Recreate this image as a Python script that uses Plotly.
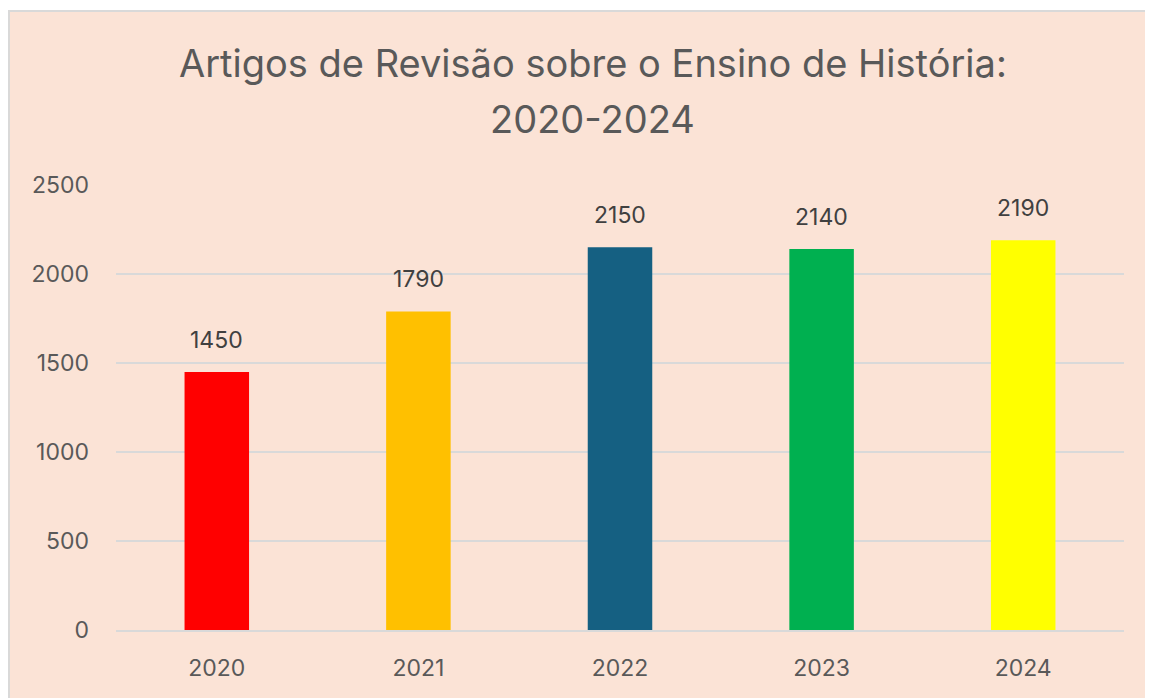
import plotly.graph_objects as go

anos = ['2020', '2021', '2022', '2023', '2024']
artigos = [1450, 1790, 2150, 2140, 2190]
cores = ['#FF0000', '#FFC000', '#156082', '#00B050', '#FFFF00']
y_ticks = [0, 500, 1000, 1500, 2000, 2500]
titulo = ['Artigos de Revisão sobre o Ensino de História:', '2020-2024']

fonte = 'Inter, Roboto, Liberation Sans, sans-serif'

fig = go.Figure()
fig.add_trace(go.Bar(x=anos, y=artigos, marker=dict(color=cores, line=dict(width=0)),
                     width=0.32, showlegend=False, hoverinfo='x+y'))

# rótulos de valor acima das barras (x = índice da categoria)
for i, v in enumerate(artigos):
    fig.add_annotation(x=i, y=v, text=str(v), showarrow=False, yanchor='bottom', yshift=16,
                       font=dict(family=fonte, size=23, color='#404040'))

# título em duas linhas
for linha, ypos in zip(titulo, [1.275, 1.148]):
    fig.add_annotation(x=0.473, y=ypos, xref='paper', yref='paper', text=linha, showarrow=False,
                       xanchor='center', yanchor='middle',
                       font=dict(family=fonte, size=38, color='#595959'))

# fundo do gráfico (estilo Excel)
fig.add_shape(type='rect', xref='paper', yref='paper', x0=-0.1062, x1=1.2, y0=-0.3, y1=1.391,
              fillcolor='#FBE3D6', line=dict(color='#D9D9D9', width=2), layer='below')

fig.update_layout(
    width=1146, height=691,
    margin=dict(l=108, r=30, t=177, b=69),
    paper_bgcolor='white', plot_bgcolor='rgba(0,0,0,0)',
    font=dict(family=fonte, size=23, color='#595959'),
    bargap=0.68,
)
fig.update_yaxes(range=[0, 2500], tickvals=y_ticks, showgrid=True, gridcolor='#D9D9D9', gridwidth=1.5,
                 zeroline=False, showline=False, ticks='', ticklabelstandoff=26)
fig.update_xaxes(type='category', range=[-0.5, len(anos) - 0.5], showgrid=False, showline=True,
                 linecolor='#D9D9D9', linewidth=1.5, ticks='', ticklabelstandoff=17)

fig.write_html("out.html")
